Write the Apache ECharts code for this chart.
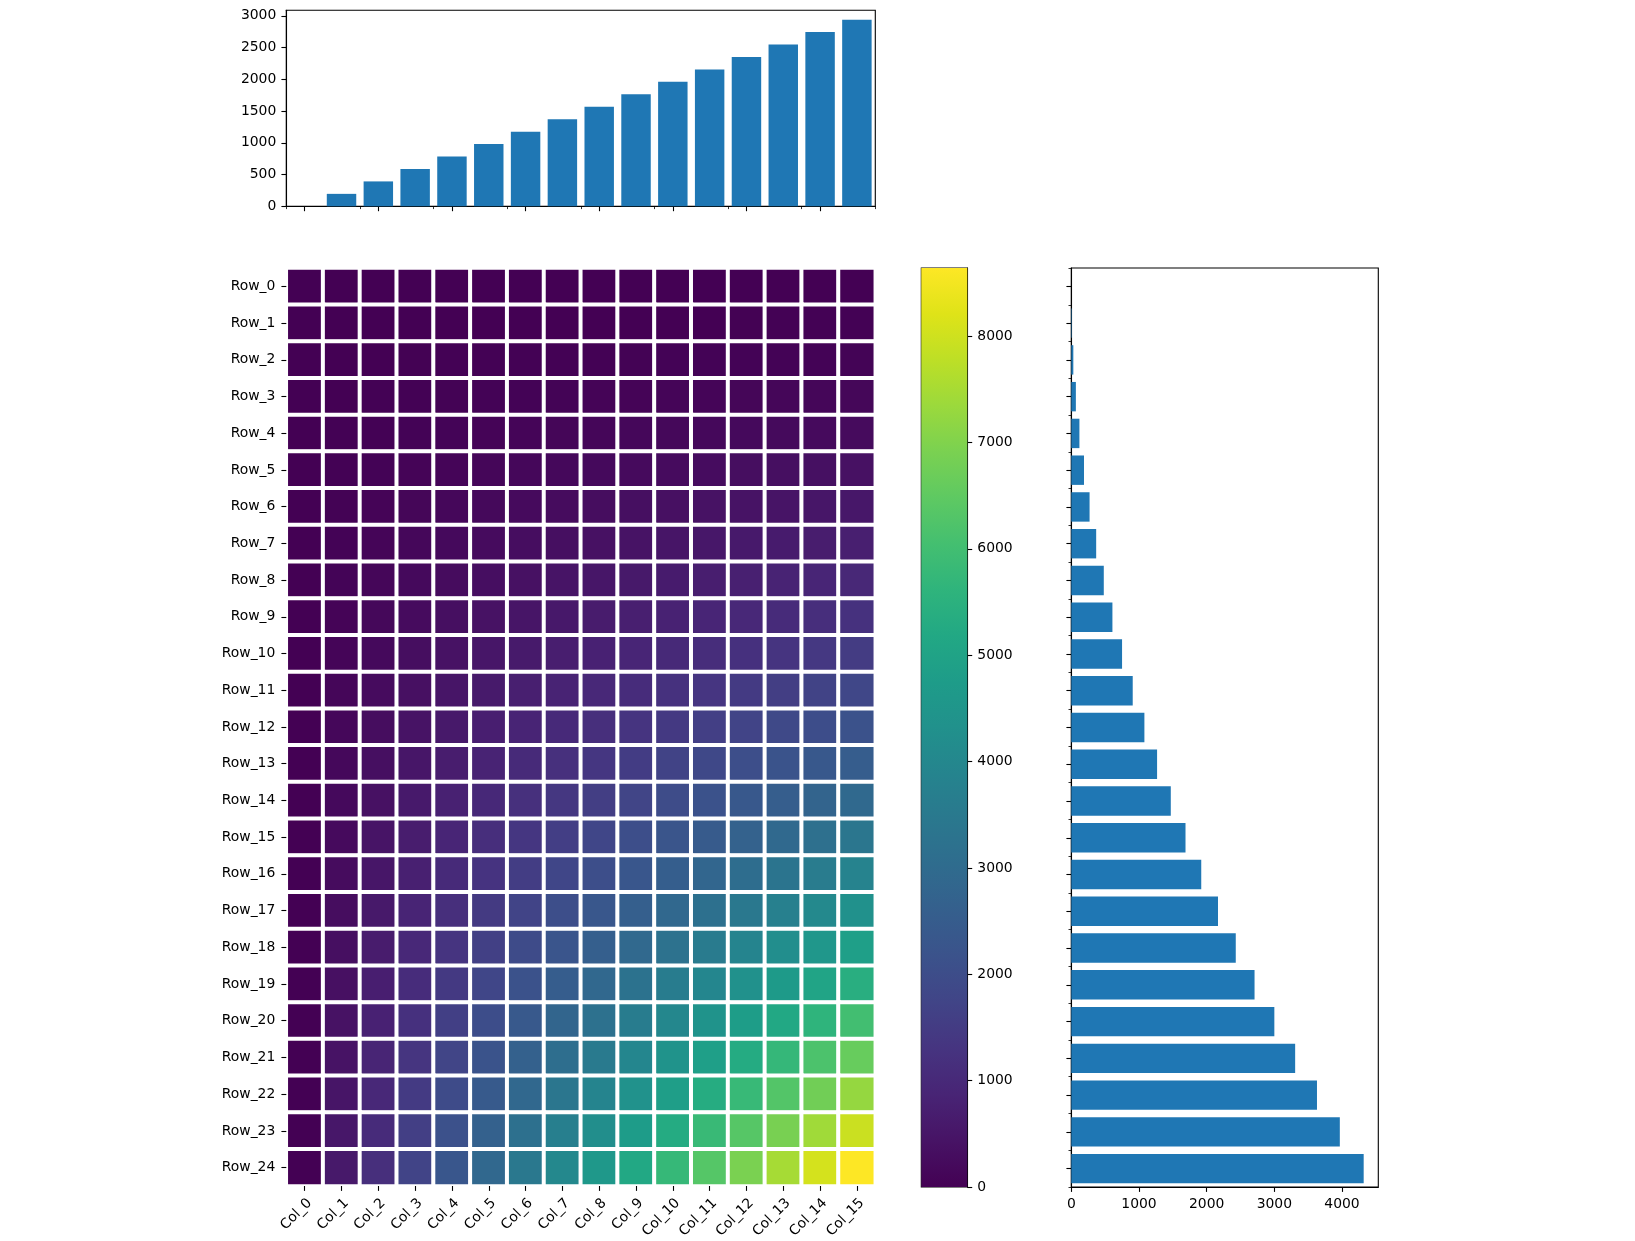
<!DOCTYPE html>
<html><head><meta charset="utf-8">
<script src="https://cdn.jsdelivr.net/npm/echarts@6/dist/echarts.min.js"></script>
<style>html,body{margin:0;padding:0;background:#fff}#c{width:1635px;height:1241px}</style>
</head><body><div id="c"></div>
<script>
const colLabels = ['Col_0','Col_1','Col_2','Col_3','Col_4','Col_5','Col_6','Col_7','Col_8','Col_9','Col_10','Col_11','Col_12','Col_13','Col_14','Col_15'];
const rowLabels = ['Row_0','Row_1','Row_2','Row_3','Row_4','Row_5','Row_6','Row_7','Row_8','Row_9','Row_10','Row_11','Row_12','Row_13','Row_14','Row_15','Row_16','Row_17','Row_18','Row_19','Row_20','Row_21','Row_22','Row_23','Row_24'];
const values = [
 [0,0,0,0,0,0,0,0,0,0,0,0,0,0,0,0],
 [0,1,2,3,4,5,6,7,8,9,10,11,12,13,14,15],
 [0,4,8,12,16,20,24,28,32,36,40,44,48,52,56,60],
 [0,9,18,27,36,45,54,63,72,81,90,99,108,117,126,135],
 [0,16,32,48,64,80,96,112,128,144,160,176,192,208,224,240],
 [0,25,50,75,100,125,150,175,200,225,250,275,300,325,350,375],
 [0,36,72,108,144,180,216,252,288,324,360,396,432,468,504,540],
 [0,49,98,147,196,245,294,343,392,441,490,539,588,637,686,735],
 [0,64,128,192,256,320,384,448,512,576,640,704,768,832,896,960],
 [0,81,162,243,324,405,486,567,648,729,810,891,972,1053,1134,1215],
 [0,100,200,300,400,500,600,700,800,900,1000,1100,1200,1300,1400,1500],
 [0,121,242,363,484,605,726,847,968,1089,1210,1331,1452,1573,1694,1815],
 [0,144,288,432,576,720,864,1008,1152,1296,1440,1584,1728,1872,2016,2160],
 [0,169,338,507,676,845,1014,1183,1352,1521,1690,1859,2028,2197,2366,2535],
 [0,196,392,588,784,980,1176,1372,1568,1764,1960,2156,2352,2548,2744,2940],
 [0,225,450,675,900,1125,1350,1575,1800,2025,2250,2475,2700,2925,3150,3375],
 [0,256,512,768,1024,1280,1536,1792,2048,2304,2560,2816,3072,3328,3584,3840],
 [0,289,578,867,1156,1445,1734,2023,2312,2601,2890,3179,3468,3757,4046,4335],
 [0,324,648,972,1296,1620,1944,2268,2592,2916,3240,3564,3888,4212,4536,4860],
 [0,361,722,1083,1444,1805,2166,2527,2888,3249,3610,3971,4332,4693,5054,5415],
 [0,400,800,1200,1600,2000,2400,2800,3200,3600,4000,4400,4800,5200,5600,6000],
 [0,441,882,1323,1764,2205,2646,3087,3528,3969,4410,4851,5292,5733,6174,6615],
 [0,484,968,1452,1936,2420,2904,3388,3872,4356,4840,5324,5808,6292,6776,7260],
 [0,529,1058,1587,2116,2645,3174,3703,4232,4761,5290,5819,6348,6877,7406,7935],
 [0,576,1152,1728,2304,2880,3456,4032,4608,5184,5760,6336,6912,7488,8064,8640]
];
const colMeans = [0,196,392,588,784,980,1176,1372,1568,1764,1960,2156,2352,2548,2744,2940];
const rowMeans = [0,7.5,30,67.5,120,187.5,270,367.5,480,607.5,750,907.5,1080,1267.5,1470,1687.5,1920,2167.5,2430,2707.5,3000,3307.5,3630,3967.5,4320];
const topTicks = [0,500,1000,1500,2000,2500,3000];
const cbarTicks = [0,1000,2000,3000,4000,5000,6000,7000,8000];
const rightTicks = [0,1000,2000,3000,4000];
const topMax = 3087, cbarMax = 8640, rightMax = 4536;
const viridis = ['#440154','#471365','#482475','#463480','#414487','#3b528b','#355f8d','#2f6c8e','#2a788e','#25848e','#21918c','#1e9c89','#22a884','#2fb47c','#44bf70','#5ec962','#7ad151','#9bd93c','#bddf26','#dfe318','#fde725'];

const FONT = 'DejaVu Sans', FS = 13.9, BLUE = '#1f77b4';
const heatData = [];
values.forEach((row, i) => row.forEach((v, j) => heatData.push([j, i, v])));
const lbl = {fontFamily: FONT, fontSize: FS, color: '#000'};
const numFmt = v => String(v);
const line = {show: true, lineStyle: {color: '#000', width: 1.1}};
const tickMaj = {show: true, length: 4.9, lineStyle: {color: '#000', width: 1.1}};
const tickMin = {show: true, length: 2.8, lineStyle: {color: '#000', width: 0.8}};
const gridBox = {show: true, borderColor: '#000', borderWidth: 1.1, backgroundColor: 'transparent'};

const chart = echarts.init(document.getElementById('c'), null, {renderer: 'canvas'});
chart.setOption({
  animation: false,
  backgroundColor: '#fff',
  grid: [
    Object.assign({left: 286.3, top: 10.3, width: 589, height: 196}, gridBox),
    {left: 286.3, top: 268, width: 589, height: 919, show: false},
    Object.assign({left: 921.3, top: 268, width: 46, height: 919}, gridBox),
    Object.assign({left: 1071.3, top: 268, width: 307, height: 919}, gridBox)
  ],
  visualMap: {show: false, type: 'continuous', min: 0, max: cbarMax, dimension: 2, seriesIndex: 1, inRange: {color: viridis}},
  xAxis: [
    {type: 'category', gridIndex: 0, data: colLabels, axisLine: line, axisTick: Object.assign({alignWithLabel: true}, tickMaj), axisLabel: {show: false}, splitLine: {show: false}},
    {type: 'category', gridIndex: 0, data: colLabels, position: 'bottom', axisLine: {show: false}, axisTick: Object.assign({alignWithLabel: false}, tickMin), axisLabel: {show: false}, splitLine: {show: false}},
    {type: 'category', gridIndex: 1, data: colLabels, z: 5, axisLine: {show: false}, axisTick: Object.assign({alignWithLabel: true}, tickMaj), axisLabel: Object.assign({rotate: 45, margin: 10, interval: 0, align: 'right', verticalAlign: 'top'}, lbl), splitLine: {show: false}, splitArea: {show: false}},
    {type: 'category', gridIndex: 2, data: ['c'], show: false},
    {type: 'value', gridIndex: 3, min: 0, max: rightMax, axisLine: line, axisTick: Object.assign({customValues: rightTicks}, tickMaj), axisLabel: Object.assign({customValues: rightTicks, margin: 10, formatter: numFmt}, lbl), splitLine: {show: false}}
  ],
  yAxis: [
    {type: 'value', gridIndex: 0, min: 0, max: topMax, axisLine: line, axisTick: Object.assign({customValues: topTicks}, tickMaj), axisLabel: Object.assign({customValues: topTicks, margin: 10, formatter: numFmt}, lbl), splitLine: {show: false}},
    {type: 'category', gridIndex: 1, data: rowLabels, inverse: true, z: 5, axisLine: {show: false}, axisTick: Object.assign({alignWithLabel: true}, tickMaj), axisLabel: Object.assign({margin: 11, interval: 0}, lbl), splitLine: {show: false}, splitArea: {show: false}},
    {type: 'value', gridIndex: 2, min: 0, max: cbarMax, position: 'right', axisLine: line, axisTick: Object.assign({customValues: cbarTicks}, tickMaj), axisLabel: Object.assign({customValues: cbarTicks, margin: 10, formatter: numFmt}, lbl), splitLine: {show: false}},
    {type: 'category', gridIndex: 3, data: rowLabels, inverse: true, axisLine: line, axisTick: Object.assign({alignWithLabel: true}, tickMaj), axisLabel: {show: false}, splitLine: {show: false}},
    {type: 'category', gridIndex: 3, data: rowLabels, inverse: true, position: 'left', axisLine: {show: false}, axisTick: Object.assign({alignWithLabel: false}, tickMin), axisLabel: {show: false}, splitLine: {show: false}}
  ],
  series: [
    {type: 'bar', xAxisIndex: 0, yAxisIndex: 0, data: colMeans, barWidth: '80%', itemStyle: {color: BLUE}, silent: true},
    {type: 'heatmap', xAxisIndex: 2, yAxisIndex: 1, data: heatData, itemStyle: {borderColor: '#fff', borderWidth: 4}, emphasis: {disabled: true}, silent: true},
    {type: 'bar', xAxisIndex: 3, yAxisIndex: 2, data: [cbarMax], barWidth: '100%', silent: true,
      itemStyle: {color: new echarts.graphic.LinearGradient(0, 1, 0, 0, viridis.map((c, k) => ({offset: k / (viridis.length - 1), color: c})))}},
    {type: 'bar', xAxisIndex: 4, yAxisIndex: 3, data: rowMeans, barWidth: '80%', itemStyle: {color: BLUE}, silent: true}
  ]
});
</script></body></html>
